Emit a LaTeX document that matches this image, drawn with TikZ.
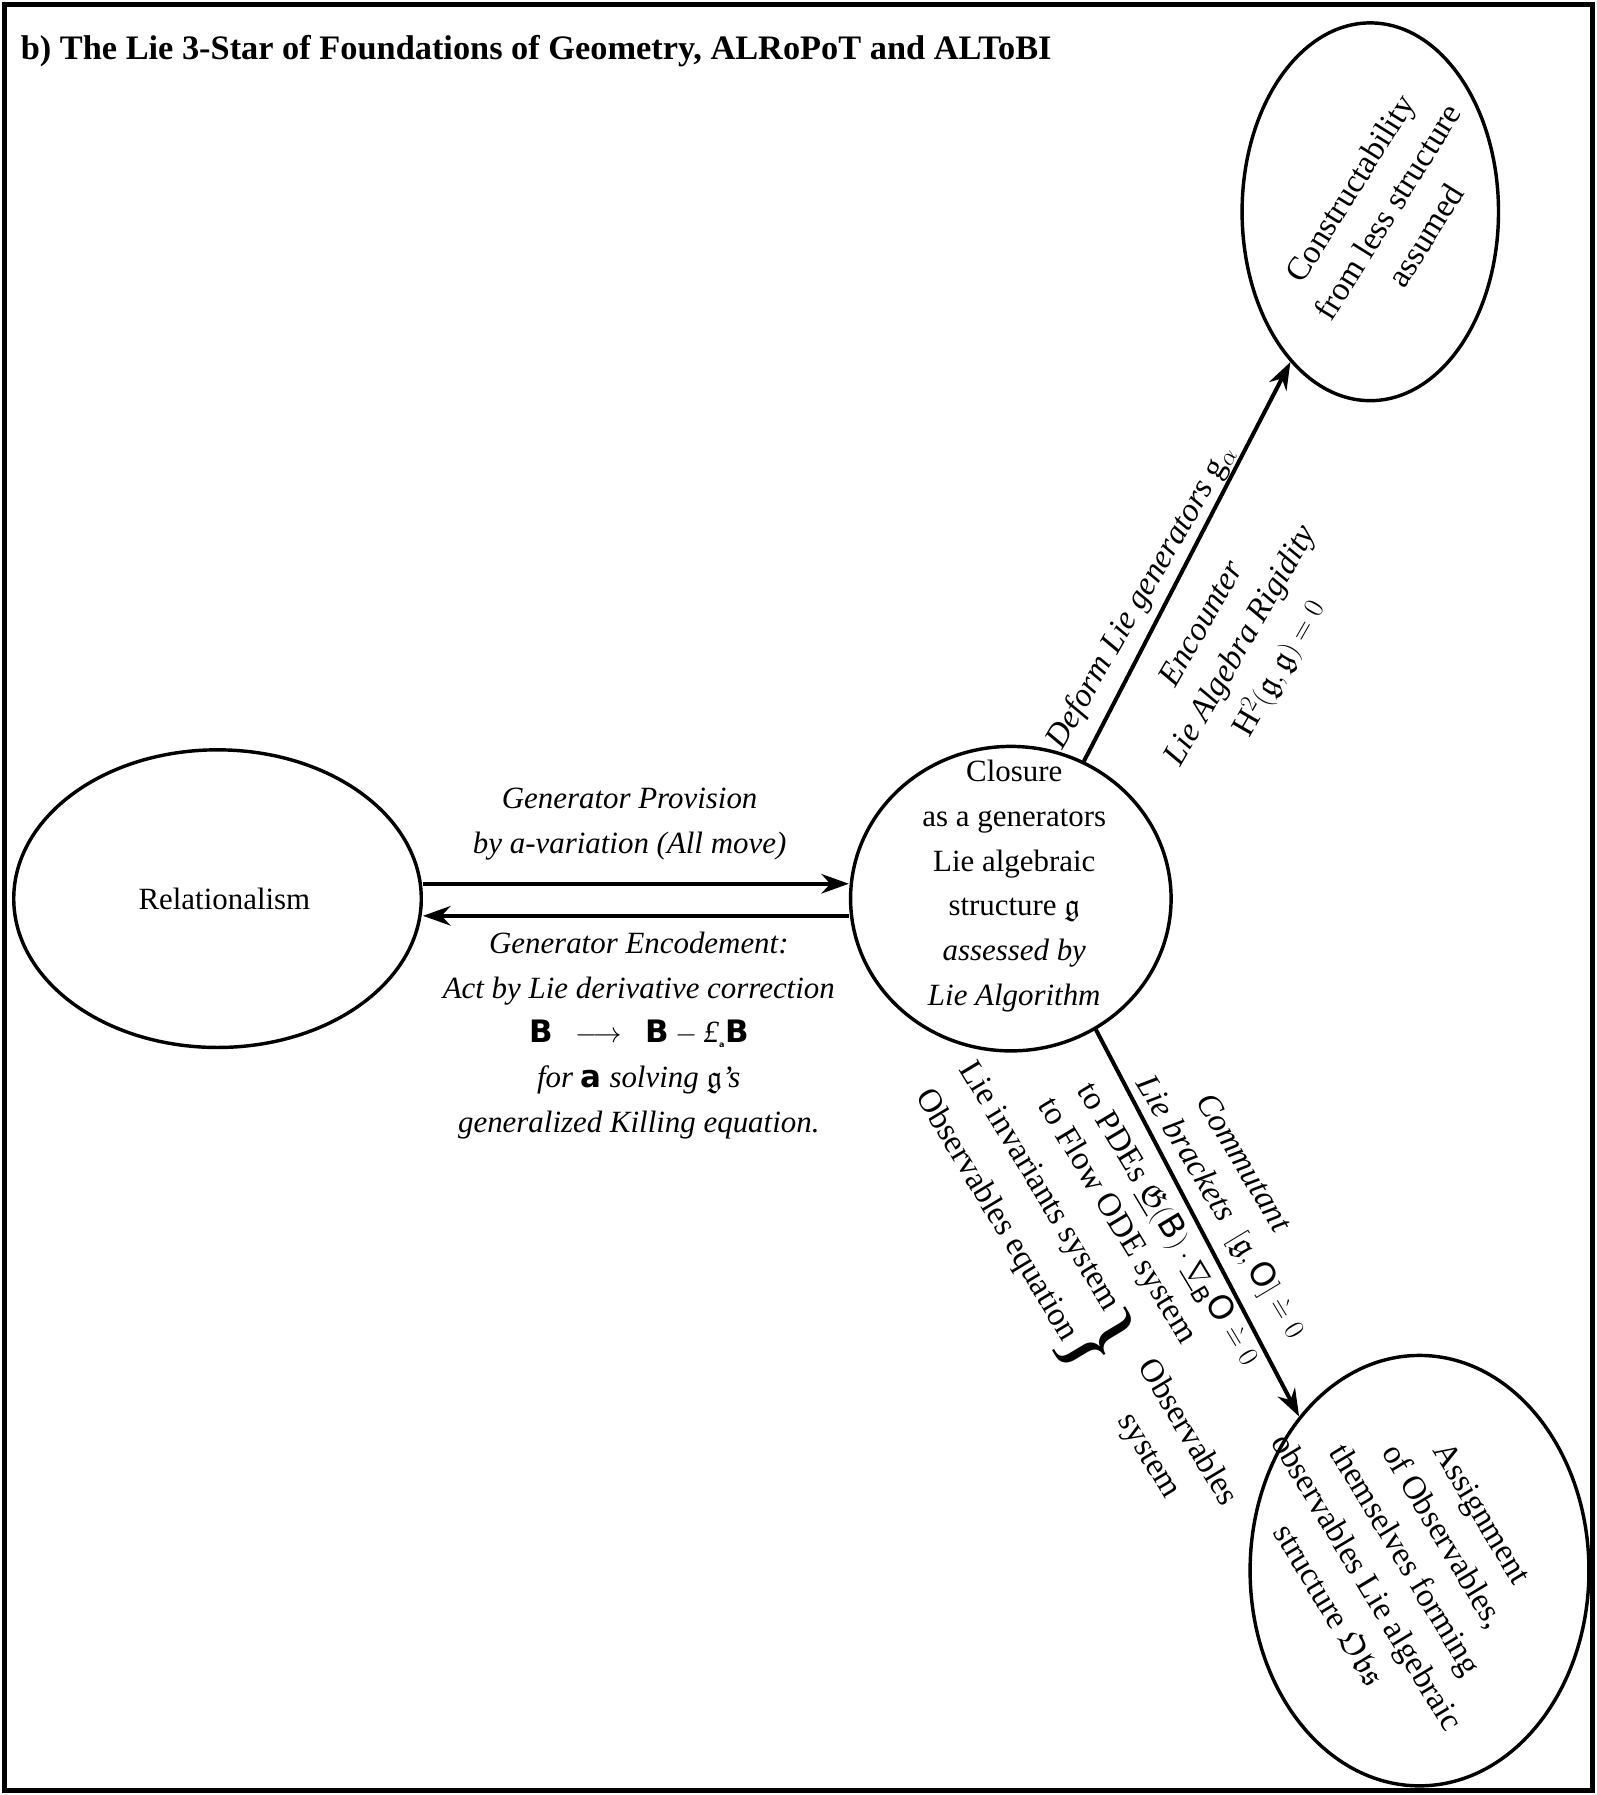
\documentclass[tikz,border=0pt]{standalone}
\usepackage{amsmath,amssymb}
\usepackage{fontspec}
\setmainfont{Liberation Serif}
\setsansfont{DejaVu Sans}
\usetikzlibrary{shapes.geometric,arrows.meta}
\newcommand{\bsf}[1]{\textsf{\bfseries\upshape #1}}
\begin{document}
\begin{tikzpicture}[x=1pt,y=-1pt,
  lbl/.style={font=\fontsize{27}{39}\selectfont, align=center, inner sep=0pt},
  ilbl/.style={lbl, font=\fontsize{27}{39}\selectfont\itshape},
  rlbl/.style={font=\fontsize{29}{39}\selectfont, align=center, inner sep=0pt},
  irlbl/.style={rlbl, font=\fontsize{29}{39}\selectfont\itshape},
  oval/.style={ellipse, draw, line width=3pt, inner sep=0pt},
  arr/.style={line width=3.5pt, -{Stealth[length=24pt,width=17pt]}}]
\useasboundingbox (0,0) rectangle (1395,1568);
\draw[line width=4pt] (4,4) rectangle (1391,1564);
\node[anchor=west, font=\fontsize{30}{34}\selectfont\bfseries, inner sep=0pt] (title) at (18,45) {b) The Lie 3-Star of Foundations of Geometry, ALRoPoT and ALToBI};

\node[oval, minimum width=356pt, minimum height=260pt] (rel) at (190,785) {};
\node[lbl] (reltxt) at (196,785) {Relationalism};

\node[oval, minimum width=280pt, minimum height=266pt] (cen) at (883,785) {};
\node[lbl] (centxt) at (886,774) {Closure\\as a generators\\Lie algebraic\\structure $\mathfrak{g}$\\\textit{assessed by}\\\textit{Lie Algorithm}};

\node[oval, minimum width=224pt, minimum height=330pt] (tr) at (1197,185) {};
\node[rlbl, rotate=58] (trtxt) at (1212,185) {Constructability\\from less structure\\assumed};

\node[oval, minimum width=296pt, minimum height=376pt] (br) at (1240,1372) {};
\node[rlbl, rotate=-59] (brtxt) at (1228,1362) {Assignment\\of Observables,\\themselves forming\\observables Lie algebraic\\structure $\mathfrak{Obs}$};

\draw[arr] ([yshift=13pt]rel.east) -- ([yshift=13pt]cen.west);
\draw[arr] ([yshift=-15pt]cen.west) -- ([yshift=-15pt]rel.east);
\draw[arr] (cen.62) -- (tr.242);
\draw[arr] (cen.-57) -- (br.128);

\node[ilbl] (gp) at (550,720) {Generator Provision\\by a-variation (All move)};
\node[ilbl, anchor=north] (ge) at (558,814) {Generator Encodement:\\Act by Lie derivative correction\\\upshape$\bsf{B}\ \ \longrightarrow\ \ \bsf{B} - \text{\itshape£}_{\bsf{\scriptsize a}}\bsf{B}$\\for \bsf{a} solving $\mathfrak{g}$'s\\generalized Killing equation.};

\node[irlbl, rotate=60] (def) at (997,522) {Deform Lie generators $\mathrm{g}_{\alpha}$};
\node[irlbl, rotate=60] (enc) at (1085,565) {Encounter\\Lie Algebra Rigidity\\\upshape H$^2(\mathfrak{g},\mathfrak{g}) = 0$};

\node[irlbl, rotate=-59] (c1) at (1087,1015) {Commutant};
\node[irlbl, rotate=-59] (c2) at (1066,1055) {Lie brackets\ \ \upshape$[\mathfrak{g},\mathsf{O}]\ \grave{=}\ 0$};
\node[rlbl, rotate=-59] (c3) at (1020,1070) {to PDEs $\underline{\mathfrak{G}}(\mathsf{B})\cdot\underline{\nabla}_{\mathsf{B}}\mathsf{O}\ \grave{=}\ 0$};
\node[rlbl, rotate=-59] (c4) at (975,1067) {to Flow ODE system};
\node[rlbl, rotate=-59] (c5) at (907,1037) {Lie invariants system};
\node[rlbl, rotate=-59] (c6) at (870,1062) {Observables equation};
\node[lbl, rotate=-59, font=\fontsize{90}{90}\selectfont] (br1) at (958,1172) {\}};
\node[rlbl, rotate=-59] (os) at (1020,1262) {Observables\\system};
\end{tikzpicture}
\end{document}
